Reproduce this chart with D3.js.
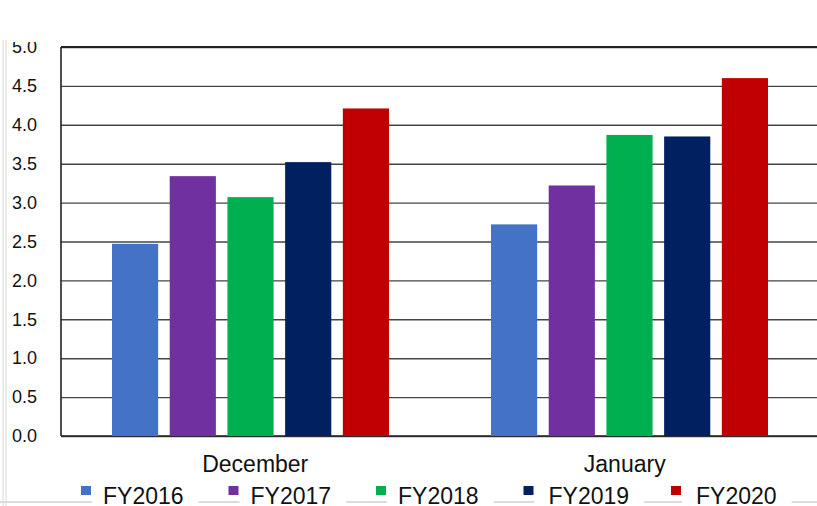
<!DOCTYPE html>
<html><head><meta charset="utf-8">
<script src="https://cdn.jsdelivr.net/npm/d3@7/dist/d3.min.js"></script>
<style>body{margin:0;background:#fff;overflow:hidden}svg{display:block}text{font-family:"Liberation Sans",Arial,sans-serif;fill:#111}</style>
</head><body>
<script>
const categories = ["December", "January"];
const seriesNames = ["FY2016", "FY2017", "FY2018", "FY2019", "FY2020"];
const seriesColors = ["#4472C4", "#7030A0", "#00B050", "#002060", "#C00000"];
const values = {
  FY2016: [2.47, 2.72],
  FY2017: [3.34, 3.22],
  FY2018: [3.07, 3.87],
  FY2019: [3.52, 3.85],
  FY2020: [4.21, 4.60]
};
const yTicks = [0, 0.5, 1, 1.5, 2, 2.5, 3, 3.5, 4, 4.5, 5];

(function () {
const W = 817, H = 506;
const svg = d3.select("body").append("svg").attr("width", W).attr("height", H);

const pLeft = 61, pTop = 47, pBottom = 436, pRight = 819;
const y = d3.scaleLinear().domain([0, 5]).range([pBottom, pTop]);
const x0 = d3.scaleBand().domain(categories).range([pLeft, pRight]).padding(0);
const x1 = d3.scaleBand().domain(seriesNames).range([51, 328]).paddingInner(0.2).paddingOuter(0);
const xLabel = d3.scaleBand().domain(categories).range([pLeft + 9.5, pRight - 9.5]).padding(0);

svg.append("defs").append("clipPath").attr("id", "clipTop")
  .append("rect").attr("x", -pLeft).attr("y", 42).attr("width", W).attr("height", H - 42);

[3, 6].forEach(xx => svg.append("line").attr("x1", xx).attr("x2", xx).attr("y1", 40).attr("y2", H)
  .attr("stroke", "#d8d8d8").attr("stroke-width", 1));

const yAxis = d3.axisLeft(y).tickValues(yTicks).tickSize(-(pRight - pLeft)).tickFormat(d3.format(".1f"));
const gAxis = svg.append("g").attr("transform", `translate(${pLeft},0)`).attr("clip-path", "url(#clipTop)").call(yAxis);
gAxis.select(".domain").remove();
gAxis.selectAll(".tick line").attr("stroke", "#444").attr("stroke-width", 1.4);
gAxis.selectAll(".tick text").attr("x", -24).attr("font-size", 18).attr("fill", "#111")
  .attr("font-family", "'Liberation Sans', Arial, sans-serif");
svg.append("line").attr("x1", pLeft).attr("x2", W).attr("y1", pTop).attr("y2", pTop).attr("stroke", "#222").attr("stroke-width", 1.8);
svg.append("line").attr("x1", pLeft).attr("x2", W).attr("y1", pBottom).attr("y2", pBottom).attr("stroke", "#222").attr("stroke-width", 1.6);
svg.append("line").attr("x1", pLeft).attr("x2", pLeft).attr("y1", pTop).attr("y2", pBottom).attr("stroke", "#222").attr("stroke-width", 1.6);

const groups = svg.append("g").selectAll("g").data(categories).join("g")
  .attr("transform", d => `translate(${x0(d)},0)`);
groups.selectAll("rect").data((c, ci) => seriesNames.map((s, si) => ({s, si, v: values[s][ci]})))
  .join("rect")
  .attr("x", d => x1(d.s)).attr("width", x1.bandwidth())
  .attr("y", d => y(d.v)).attr("height", d => y(0) - y(d.v))
  .attr("fill", d => seriesColors[d.si]);

svg.append("g").selectAll("text").data(categories).join("text")
  .attr("x", d => xLabel(d) + xLabel.bandwidth() / 2).attr("y", 472)
  .attr("text-anchor", "middle").attr("font-size", 23).text(d => d);

const legX = d3.scaleLinear().domain([0, 4]).range([81, 671]);
const textW = [];
const leg = svg.append("g");
seriesNames.forEach((s, i) => {
  const mx = legX(i);
  leg.append("rect").attr("x", mx).attr("y", 486).attr("width", 10).attr("height", 9).attr("fill", seriesColors[i]);
  const tx = mx + 22 + (i >= 3 ? 3 : 0);
  const t = leg.append("text").attr("x", tx).attr("y", 504).attr("font-size", 23).text(s);
  textW.push([mx, tx + t.node().getComputedTextLength()]);
});
const segs = [[0, 92]];
textW.forEach(([mx, te], i) => {
  const next = i < 4 ? legX(i + 1) + 11 : W;
  segs.push([te + 15, next]);
});
segs.forEach(([a, b]) => svg.append("line").attr("x1", a).attr("x2", b).attr("y1", 502).attr("y2", 502)
  .attr("stroke", "#dcdcdc").attr("stroke-width", 2));
})();
</script>
</body></html>
